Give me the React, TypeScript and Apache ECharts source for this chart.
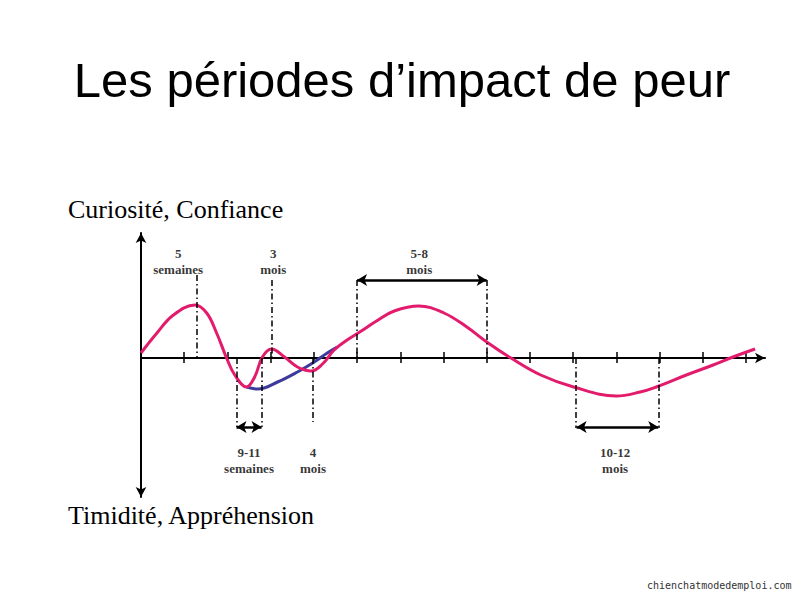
import React, { useEffect, useRef } from "react";
import * as echarts from "echarts";

// Courbe principale (rose) : [temps, niveau]
const pinkCurve = [
  [0, 0.5], [0.35, 2.4], [0.75, 4.3], [1.25, 5.3], [1.52, 4.5], [1.75, 2.5],
  [1.98, 0], [2.17, -1.7], [2.44, -2.9], [2.63, -1.9], [2.81, 0.1], [3.02, 0.9],
  [3.32, 0.1], [3.62, -0.9], [3.94, -1.3], [4.2, -0.6], [4.47, 0.8], [4.77, 1.8],
  [5.17, 2.9], [5.45, 3.7], [5.86, 4.7], [6.43, 5.2], [7.01, 4.5], [7.54, 3.1],
  [8.0, 1.6], [8.56, 0], [9.25, -1.7], [10.01, -2.9], [11.0, -3.8], [11.55, -3.4],
  [11.92, -2.9], [12.62, -1.7], [13.24, -0.7], [13.7, 0.1], [14.21, 0.9],
];

// Variante (bleue)
const blueCurve = [
  [2.44, -2.9], [2.7, -3.1], [3.16, -2.4], [3.62, -1.4], [4.01, -0.4],
  [4.31, 0.5], [4.54, 1.1],
];

const xTicks = [1, 2, 3, 4, 5, 6, 7, 8, 9, 10, 11, 12, 13, 14];

// Repères pointillés : [x, yDébut, yFin]
const guides = [
  [1.29, 8.3, 0], [3.02, 7.8, 0], [5.0, 7.8, 0], [8.0, 7.8, 0],
  [2.21, 0, -6.9], [2.79, 0, -6.9], [3.97, 0, -6.4],
  [10.05, 0, -7.0], [11.97, 0, -7.0],
];

// Flèches doubles : [xDébut, xFin, y]
const spans = [
  [5.0, 8.0, 7.8],
  [2.21, 2.79, -6.9],
  [10.08, 11.97, -6.9],
];

const periodNames = ["5\nsemaines", "3\nmois", "5-8\nmois", "9-11\nsemaines", "4\nmois", "10-12\nmois"];
const periodX = [0.86, 3.06, 6.44, 2.5, 3.98, 10.97];
const periodY = [9.7, 9.7, 9.7, -10.25, -10.25, -10.25];

const PINK = "#e31b6d";
const BLUE = "#3d3a9c";

const App = () => {
  const chartRef = useRef<HTMLDivElement | null>(null);

  useEffect(() => {
    if (!chartRef.current) return;
    const chart = echarts.init(chartRef.current, undefined, { renderer: "svg" });

    const hiddenX = {
      type: "value",
      min: 0,
      max: 14.44,
      axisLabel: { show: false },
      splitLine: { show: false },
    };

    const options = {
      animation: false,
      grid: { left: 141, right: 35, top: 233, bottom: 103 },
      xAxis: [
        {
          ...hiddenX,
          axisLine: {
            onZero: true,
            onZeroAxisIndex: 0,
            symbol: ["none", "arrow"],
            symbolSize: [8, 10],
            lineStyle: { color: "#000", width: 2 },
          },
          axisTick: {
            show: true,
            inside: false,
            length: 5,
            customValues: xTicks,
            lineStyle: { color: "#000", width: 1.5 },
          },
        },
        {
          ...hiddenX,
          position: "bottom",
          axisLine: {
            show: true,
            onZero: true,
            onZeroAxisIndex: 0,
            lineStyle: { color: "rgba(0,0,0,0)", width: 0 },
          },
          axisTick: {
            show: true,
            inside: true,
            length: 6,
            customValues: xTicks,
            lineStyle: { color: "#000", width: 1.5 },
          },
        },
      ],
      yAxis: {
        type: "value",
        min: -13.9,
        max: 12.5,
        axisLine: {
          show: true,
          symbol: ["arrow", "arrow"],
          symbolSize: [8, 10],
          lineStyle: { color: "#000", width: 2 },
        },
        axisTick: { show: false },
        axisLabel: { show: false },
        splitLine: { show: false },
      },
      graphic: [
        {
          type: "text",
          x: 402,
          y: 80,
          style: {
            text: "Les périodes d’impact de peur",
            font: "49px 'Liberation Sans', Arial, sans-serif",
            fill: "#000",
            textAlign: "center",
            textVerticalAlign: "middle",
          },
        },
        {
          type: "text",
          x: 68,
          y: 209,
          style: {
            text: "Curiosité, Confiance",
            font: "26px 'Liberation Serif', 'Times New Roman', serif",
            fill: "#000",
            textVerticalAlign: "middle",
          },
        },
        {
          type: "text",
          x: 68,
          y: 515,
          style: {
            text: "Timidité, Appréhension",
            font: "26px 'Liberation Serif', 'Times New Roman', serif",
            fill: "#000",
            textVerticalAlign: "middle",
          },
        },
        {
          type: "text",
          x: 647,
          y: 585,
          style: {
            text: "chienchatmodedemploi.com",
            font: "10px 'DejaVu Sans Mono', monospace",
            fill: "#333",
            textVerticalAlign: "middle",
          },
        },
      ],
      series: [
        {
          type: "line",
          data: blueCurve,
          smooth: 0.4,
          showSymbol: false,
          lineStyle: { color: BLUE, width: 3 },
          z: 3,
        },
        {
          type: "line",
          data: pinkCurve,
          smooth: 0.4,
          showSymbol: false,
          lineStyle: { color: PINK, width: 3 },
          z: 4,
          markLine: {
            silent: true,
            symbol: ["none", "none"],
            label: { show: false },
            lineStyle: { color: "#000", width: 1.5, type: [6, 3, 1.5, 3] },
            data: guides.map(([x, y1, y2]) => [{ coord: [x, y1] }, { coord: [x, y2] }]),
          },
        },
        {
          type: "line",
          data: [],
          markLine: {
            silent: true,
            symbol: ["arrow", "arrow"],
            symbolSize: [9, 10],
            label: { show: false },
            lineStyle: { color: "#000", width: 2.5, type: "solid" },
            data: spans.map(([x1, x2, y]) => [{ coord: [x1, y] }, { coord: [x2, y] }]),
          },
        },
        {
          type: "scatter",
          symbolSize: 1,
          itemStyle: { color: "rgba(0,0,0,0)" },
          label: {
            show: true,
            position: "inside",
            formatter: "{b}",
            color: "#000",
            fontFamily: "'Liberation Serif', 'Times New Roman', serif",
            fontWeight: "bold",
            fontSize: 13,
            lineHeight: 16,
          },
          data: periodNames.map((name, i) => ({ name, value: [periodX[i], periodY[i]] })),
        },
      ],
    };

    chart.setOption(options);
    return () => {
      chart.dispose();
    };
  }, []);

  return (
    <div
      ref={chartRef}
      style={{ position: "absolute", left: 0, top: 0, width: "800px", height: "600px", background: "#fff" }}
    ></div>
  );
};

export default App;
